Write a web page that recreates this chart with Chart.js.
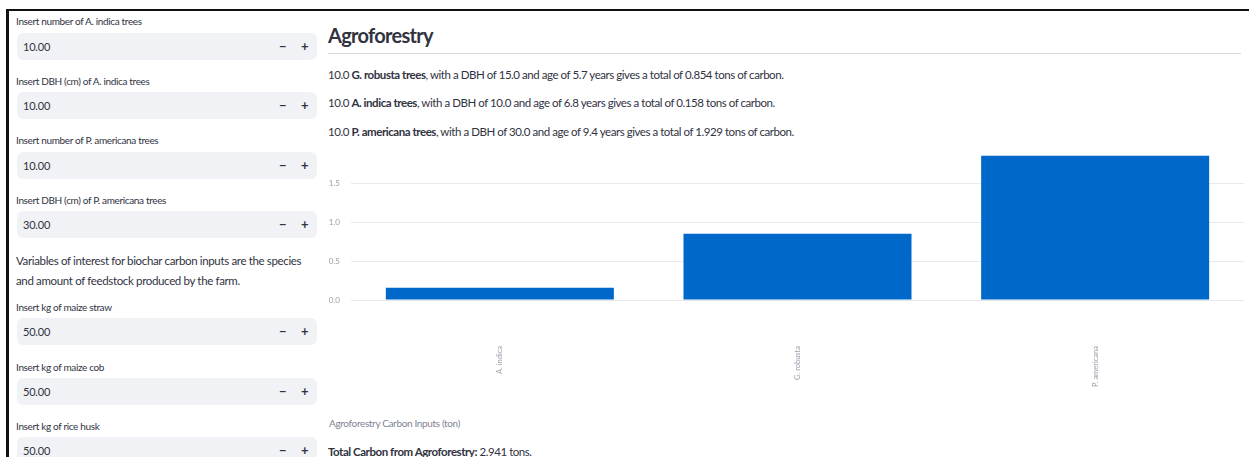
<!DOCTYPE html>
<html>
<head>
<meta charset="utf-8">
<script src="https://cdn.jsdelivr.net/npm/chart.js@4.4.1/dist/chart.umd.min.js"></script>
<style>
  html, body { margin: 0; padding: 0; background: #fff; }
  body { width: 1249px; height: 457px; overflow: hidden; position: relative;
         font-family: "Lato", "Open Sans", sans-serif; color: #31333f; }
  .frame-top { position: absolute; left: 6px; top: 9px; width: 1243px; height: 2px; background: #111; }
  .frame-left { position: absolute; left: 6px; top: 9px; width: 3px; height: 448px; background: #111; }
  .lbl { position: absolute; left: 16px; font-size: 10px; line-height: 14px; letter-spacing: -0.35px; white-space: nowrap; }
  .inp { position: absolute; left: 17px; width: 300px; height: 27px; border-radius: 6px; background: #f0f2f6;
         font-size: 11px; line-height: 27px; letter-spacing: -0.2px; }
  .inp .v { position: absolute; left: 6px; }
  .inp .m { position: absolute; left: 262px; font-weight: 700; font-size: 13px; }
  .inp .p { position: absolute; left: 284px; font-weight: 700; font-size: 13px; }
  .para { position: absolute; left: 16px; top: 251px; font-size: 11.5px; line-height: 20px; letter-spacing: -0.35px; white-space: nowrap; }
  h2 { position: absolute; left: 328px; top: 22px; margin: 0; font-size: 20px; line-height: 26px; font-weight: 700; letter-spacing: -0.7px; }
  .rule { position: absolute; left: 328px; top: 53px; width: 913px; height: 1px; background: #d9dadd; }
  .txt { position: absolute; left: 328px; font-size: 11.5px; line-height: 20px; letter-spacing: -0.45px; white-space: nowrap; }
  .cap { position: absolute; left: 329px; top: 413px; font-size: 10px; line-height: 20px; color: #808495; letter-spacing: -0.35px; white-space: nowrap; }
  #wrap { position: absolute; left: 326px; top: 140px; width: 920px; height: 255px; }
</style>
</head>
<body>
<div class="frame-top"></div>
<div class="frame-left"></div>

<div class="lbl" style="top:14px">Insert number of A. indica trees</div>
<div class="inp" style="top:33px"><span class="v">10.00</span><span class="m">−</span><span class="p">+</span></div>
<div class="lbl" style="top:74px">Insert DBH (cm) of A. indica trees</div>
<div class="inp" style="top:92px"><span class="v">10.00</span><span class="m">−</span><span class="p">+</span></div>
<div class="lbl" style="top:133px">Insert number of P. americana trees</div>
<div class="inp" style="top:152px"><span class="v">10.00</span><span class="m">−</span><span class="p">+</span></div>
<div class="lbl" style="top:193px">Insert DBH (cm) of P. americana trees</div>
<div class="inp" style="top:211px"><span class="v">30.00</span><span class="m">−</span><span class="p">+</span></div>
<div class="para">Variables of interest for biochar carbon inputs are the species<br>and amount of feedstock produced by the farm.</div>
<div class="lbl" style="top:300px">Insert kg of maize straw</div>
<div class="inp" style="top:318px"><span class="v">50.00</span><span class="m">−</span><span class="p">+</span></div>
<div class="lbl" style="top:360px">Insert kg of maize cob</div>
<div class="inp" style="top:378px"><span class="v">50.00</span><span class="m">−</span><span class="p">+</span></div>
<div class="lbl" style="top:419px">Insert kg of rice husk</div>
<div class="inp" style="top:437px"><span class="v">50.00</span><span class="m">−</span><span class="p">+</span></div>

<h2>Agroforestry</h2>
<div class="rule"></div>
<div class="txt" style="top:65px">10.0 <b>G. robusta trees</b>, with a DBH of 15.0 and age of 5.7 years gives a total of 0.854 tons of carbon.</div>
<div class="txt" style="top:93px">10.0 <b>A. indica trees</b>, with a DBH of 10.0 and age of 6.8 years gives a total of 0.158 tons of carbon.</div>
<div class="txt" style="top:122px">10.0 <b>P. americana trees</b>, with a DBH of 30.0 and age of 9.4 years gives a total of 1.929 tons of carbon.</div>

<div id="wrap"><canvas id="carbonChart"></canvas></div>

<div class="cap">Agroforestry Carbon Inputs (ton)</div>
<div class="txt" style="top:442px"><b>Total Carbon from Agroforestry:</b> 2.941 tons.</div>

<script>
// species on the x axis, carbon (tons) per species
const species = ['A. indica', 'G. robusta', 'P. americana'];
const carbonTons = [0.158, 0.854, 1.929];
const yTicks = [0, 0.5, 1.0, 1.5];

const ctx = document.getElementById('carbonChart').getContext('2d');
new Chart(ctx, {
  type: 'bar',
  data: {
    labels: species,
    datasets: [{
      data: carbonTons,
      backgroundColor: '#0068c9',
      borderWidth: 0,
      barPercentage: 0.766,
      categoryPercentage: 1.0
    }]
  },
  options: {
    responsive: true,
    maintainAspectRatio: false,
    animation: false,
    layout: { padding: { top: 0, right: 2, left: 0, bottom: 0 } },
    plugins: { legend: { display: false }, tooltip: { enabled: false } },
    scales: {
      x: {
        grid: { display: false },
        border: { display: false },
        ticks: {
          minRotation: 90,
          maxRotation: 90,
          padding: 38,
          color: '#9a9eaa',
          font: { family: 'Lato', size: 7.5 }
        },
        afterFit: s => { s.height = 95; }
      },
      y: {
        min: 0,
        max: 1.86,
        border: { display: false },
        grid: { color: '#e8eaf0', drawTicks: false },
        afterBuildTicks: s => { s.ticks = yTicks.map(v => ({ value: v })); },
        ticks: {
          padding: 11,
          color: '#9a9eaa',
          font: { family: 'Lato', size: 8 },
          callback: v => Number(v).toFixed(1)
        },
        afterFit: s => { s.width = 25; }
      }
    }
  }
});
</script>
</body>
</html>
